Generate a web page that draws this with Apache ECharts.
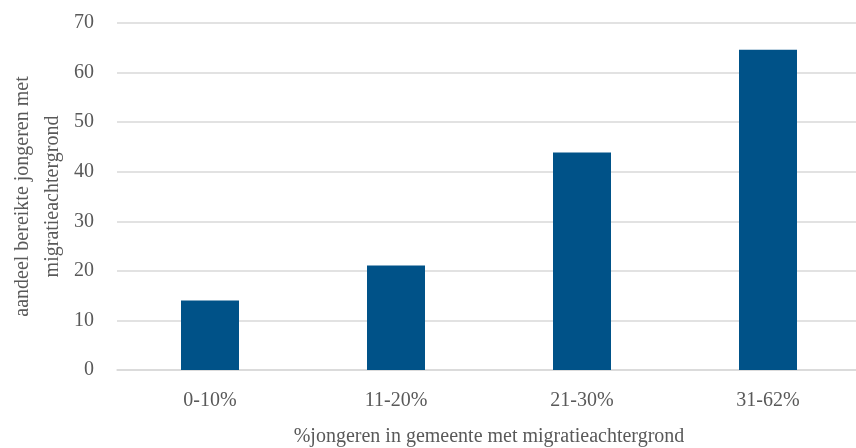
<!DOCTYPE html>
<html><head><meta charset="utf-8">
<script src="https://cdn.jsdelivr.net/npm/echarts@6/dist/echarts.min.js"></script>
<style>html,body{margin:0;padding:0;background:#fff}#c{width:856px;height:448px}</style>
</head><body><div id="c"></div>
<script>
const categories = ['0-10%', '11-20%', '21-30%', '31-62%'];
const values = [14, 21.1, 43.9, 64.6];
const yTitle = 'aandeel bereikte jongeren met\nmigratieachtergrond';
const xTitle = '%jongeren in gemeente met migratieachtergrond';
const FONT = '"Liberation Serif", "DejaVu Serif", serif';
const chart = echarts.init(document.getElementById('c'));
chart.setOption({
  animation: false,
  textStyle: {fontFamily: FONT},
  grid: {left: 117, right: -5, top: 23, bottom: 78, outerBoundsMode: 'none', containLabel: false},
  xAxis: {
    type: 'category', data: categories,
    axisLine: {lineStyle: {color: '#d9d9d9', width: 1.5}},
    axisTick: {show: false},
    axisLabel: {color: '#595959', fontSize: 20, fontFamily: FONT, margin: 21},
    name: xTitle, nameLocation: 'middle', nameGap: 57, nameMoveOverlap: false,
    nameTextStyle: {color: '#595959', fontSize: 20, fontFamily: FONT}
  },
  yAxis: {
    type: 'value', min: 0, max: 70, interval: 10,
    axisLine: {show: false}, axisTick: {show: false},
    splitLine: {lineStyle: {color: '#d9d9d9', width: 1.5}},
    axisLabel: {color: '#595959', fontSize: 20, fontFamily: FONT, margin: 23},
    name: yTitle, nameLocation: 'middle', nameGap: 49, nameRotate: 90, nameMoveOverlap: false,
    nameTextStyle: {color: '#595959', fontSize: 20, fontFamily: FONT, lineHeight: 30}
  },
  series: [{
    type: 'bar', data: values, barWidth: 58,
    itemStyle: {color: '#005288'}
  }]
});
</script></body></html>
